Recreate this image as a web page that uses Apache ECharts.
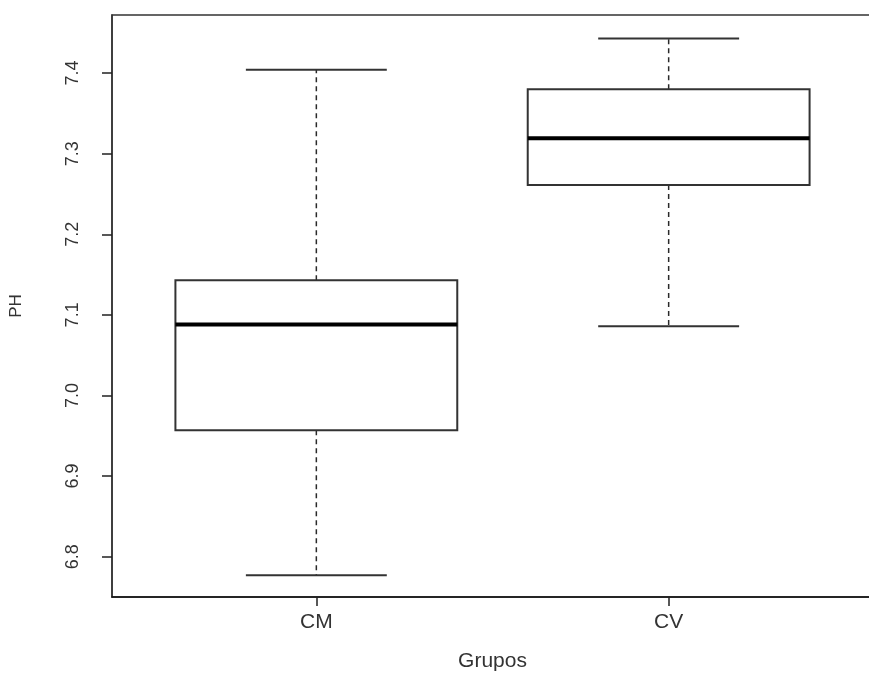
<!DOCTYPE html>
<html>
<head>
<meta charset="utf-8">
<script src="https://cdn.jsdelivr.net/npm/echarts@6/dist/echarts.min.js"></script>
<style>
html,body{margin:0;padding:0;background:#fff;}
#chart{width:869px;height:681px;}
</style>
</head>
<body>
<div id="chart"></div>
<script>
const categories = ['CM', 'CV'];
const positions = [1, 2];
const lowerWhisker = [6.777, 7.086];
const q1 = [6.957, 7.261];
const median = [7.088, 7.319];
const q3 = [7.143, 7.380];
const upperWhisker = [7.404, 7.443];
const yTicks = [6.8, 6.9, 7.0, 7.1, 7.2, 7.3, 7.4];

const seriesData = categories.map((c, i) => [positions[i], lowerWhisker[i], q1[i], median[i], q3[i], upperWhisker[i]]);

const chart = echarts.init(document.getElementById('chart'), null, {renderer: 'canvas'});

function renderItem(params, api) {
  const x = api.value(0);
  const pLow = api.coord([x, api.value(1)]);
  const pQ1 = api.coord([x, api.value(2)]);
  const pMed = api.coord([x, api.value(3)]);
  const pQ3 = api.coord([x, api.value(4)]);
  const pHigh = api.coord([x, api.value(5)]);
  const boxW = api.size([0.8, 0])[0];
  const capW = boxW / 2;
  const cx = pMed[0];
  const lineCol = '#2a2a2a';
  return {
    type: 'group',
    children: [
      {type: 'line', shape: {x1: cx, y1: pQ3[1], x2: cx, y2: pHigh[1]},
       style: {stroke: lineCol, lineWidth: 1.5, lineDash: [5, 4]}},
      {type: 'line', shape: {x1: cx, y1: pQ1[1], x2: cx, y2: pLow[1]},
       style: {stroke: lineCol, lineWidth: 1.5, lineDash: [5, 4]}},
      {type: 'line', shape: {x1: cx - capW / 2, y1: pHigh[1], x2: cx + capW / 2, y2: pHigh[1]},
       style: {stroke: '#333', lineWidth: 2}},
      {type: 'line', shape: {x1: cx - capW / 2, y1: pLow[1], x2: cx + capW / 2, y2: pLow[1]},
       style: {stroke: '#333', lineWidth: 2}},
      {type: 'rect', shape: {x: cx - boxW / 2, y: pQ3[1], width: boxW, height: pQ1[1] - pQ3[1]},
       style: {fill: '#fff', stroke: '#333', lineWidth: 2}},
      {type: 'line', shape: {x1: cx - boxW / 2, y1: pMed[1], x2: cx + boxW / 2, y2: pMed[1]},
       style: {stroke: '#000', lineWidth: 4}}
    ]
  };
}

chart.setOption({
  animation: false,
  backgroundColor: '#fff',
  grid: {left: 112, top: 15, bottom: 84, width: 761, outerBoundsMode: 'none', containLabel: false,
    show: true, borderColor: '#333', borderWidth: 1.5, backgroundColor: 'transparent'},
  xAxis: {
    type: 'value', min: 0.42, max: 2.58,
    name: 'Grupos', nameLocation: 'middle', nameGap: 54,
    nameTextStyle: {fontFamily: 'Liberation Sans', fontSize: 21, color: '#333'},
    splitLine: {show: false},
    axisLine: {show: true, onZero: false, lineStyle: {color: '#111', width: 1.5}},
    axisTick: {show: true, customValues: positions, length: 9, lineStyle: {color: '#222', width: 1.5}},
    axisLabel: {customValues: positions, formatter: v => categories[positions.indexOf(v)] || '',
      margin: 15, fontFamily: 'Liberation Sans', fontSize: 21, color: '#333'}
  },
  yAxis: {
    type: 'value', min: 6.75, max: 7.472,
    name: 'PH', nameLocation: 'middle', nameRotate: 90, nameGap: 87,
    nameTextStyle: {fontFamily: 'Liberation Sans', fontSize: 17, color: '#333'},
    splitLine: {show: false},
    axisLine: {show: true, onZero: false, lineStyle: {color: '#333', width: 1.5}},
    axisTick: {show: true, customValues: yTicks, length: 10, lineStyle: {color: '#222', width: 1.5}},
    axisLabel: {customValues: yTicks, formatter: v => v.toFixed(1), rotate: 90,
      margin: 30, fontFamily: 'Liberation Sans', fontSize: 18, color: '#333'}
  },
  series: [{
    type: 'custom',
    renderItem: renderItem,
    encode: {x: 0, y: [1, 2, 3, 4, 5]},
    data: seriesData,
    clip: false
  }]
});
</script>
</body>
</html>
